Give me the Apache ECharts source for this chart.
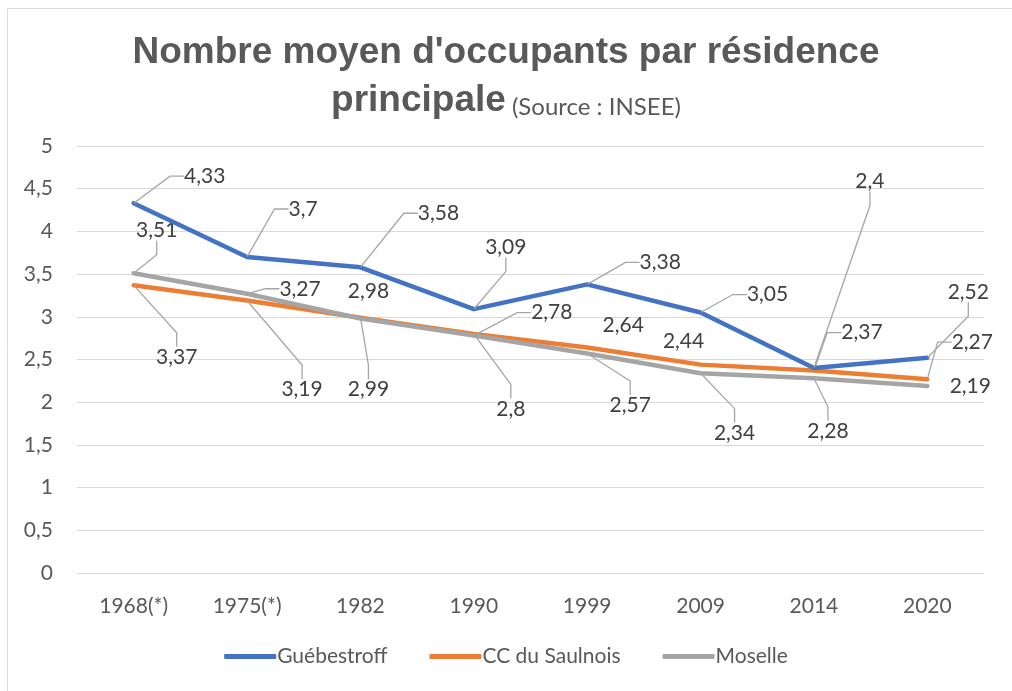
<!DOCTYPE html>
<html>
<head>
<meta charset="utf-8">
<script src="https://cdn.jsdelivr.net/npm/echarts@6/dist/echarts.min.js"></script>
<style>
html,body{margin:0;padding:0;background:#fff;}
#chart{width:1012px;height:691px;}
</style>
</head>
<body>
<div id="chart"></div>
<script>
const categories = ['1968(*)', '1975(*)', '1982', '1990', '1999', '2009', '2014', '2020'];
const guebestroff = [4.33, 3.7, 3.58, 3.09, 3.38, 3.05, 2.4, 2.52];
const saulnois = [3.37, 3.19, 2.99, 2.8, 2.64, 2.44, 2.37, 2.27];
const moselle = [3.51, 3.27, 2.98, 2.78, 2.57, 2.34, 2.28, 2.19];
const yTicks = { min: 0, max: 5, interval: 0.5 };

// label offsets (pixels, label centre relative to point) and whether a leader line is drawn
const offG = [[71,-27,1],[56,-48,1],[78,-54,1],[32,-62,1],[73,-22,1],[67,-18,1],[56,-187,1],[41,-66,1]];
const offS = [[43,72,1],[55,89,1],[8,72,1],[37,75,1],[36,-22,0],[-17,-23,0],[48,-38,1],[45,-37,1]];
const offM = [[23,-43,1],[53,-5,1],[8,-27,0],[78,-23,1],[43,52,1],[34,60,1],[14,53,1],[43,0,0]];

const FONT = 'Lato, "Open Sans", sans-serif';
const fmt = v => String(v).replace('.', ',');

function buildSeries(name, values, color, offs) {
  return {
    name: name,
    type: 'line',
    data: values.map((v, i) => ({ value: v, labelLine: { show: !!offs[i][2] } })),
    symbol: 'circle',
    symbolSize: 1,
    itemStyle: { color: color },
    lineStyle: { color: color, width: 4.5, cap: 'round', join: 'round' },
    z: name === 'Guébestroff' ? 3 : 2,
    label: {
      show: true,
      formatter: p => fmt(p.value),
      color: '#404040',
      fontSize: 21,
      fontFamily: FONT
    },
    labelLine: {
      show: true,
      length2: 14,
      lineStyle: { color: '#A6A6A6', width: 1.3 }
    },
    labelLayout: function (params) {
      const o = offs[params.dataIndex];
      const cx = params.rect.x + params.rect.width / 2;
      const cy = params.rect.y + params.rect.height / 2;
      return { x: cx + o[0], y: cy + o[1], align: 'center', verticalAlign: 'middle' };
    },
    emphasis: { disabled: true },
    animation: false
  };
}

const chart = echarts.init(document.getElementById('chart'), null, { renderer: 'canvas' });
chart.setOption({
  animation: false,
  backgroundColor: '#ffffff',
  graphic: [{
    type: 'rect',
    shape: { x: 7.5, y: 8.5, width: 1010, height: 700 },
    style: { fill: 'none', stroke: '#D9D9D9', lineWidth: 1 },
    silent: true
  }],
  title: [{
    text: "Nombre moyen d'occupants par résidence",
    left: 'center',
    top: 29,
    textStyle: { fontFamily: '"Liberation Sans", Arial, sans-serif', fontWeight: 'bold', fontSize: 37, color: '#595959' }
  }, {
    text: "{a|principale}{s| (Source : INSEE)}",
    left: 'center',
    top: 75,
    textStyle: {
      rich: {
        a: { fontFamily: '"Liberation Sans", Arial, sans-serif', fontWeight: 'bold', fontSize: 37, color: '#595959', lineHeight: 42 },
        s: { fontFamily: FONT, fontWeight: 'normal', fontSize: 24, color: '#595959', lineHeight: 42, verticalAlign: 'bottom', padding: [0, 0, 3, 0] }
      }
    }
  }],
  legend: {
    bottom: 19,
    left: 'center',
    icon: 'roundRect',
    itemWidth: 52,
    itemHeight: 5,
    itemGap: 42,
    textStyle: { fontFamily: FONT, fontSize: 21, color: '#595959', padding: [0, 0, 0, -4] },
    data: ['Guébestroff', 'CC du Saulnois', 'Moselle']
  },
  grid: { left: 77, right: 28, top: 146, bottom: 118 },
  xAxis: {
    type: 'category',
    data: categories,
    boundaryGap: true,
    axisLine: { show: true, lineStyle: { color: '#D9D9D9', width: 1 } },
    axisTick: { show: false },
    axisLabel: { color: '#595959', fontSize: 21, fontFamily: FONT, margin: 23 }
  },
  yAxis: {
    type: 'value',
    min: yTicks.min,
    max: yTicks.max,
    interval: yTicks.interval,
    axisLine: { show: false },
    axisTick: { show: false },
    splitLine: { lineStyle: { color: '#D9D9D9', width: 1 } },
    axisLabel: { color: '#595959', fontSize: 21, fontFamily: FONT, margin: 24, formatter: v => fmt(v) }
  },
  series: [
    buildSeries('Guébestroff', guebestroff, '#4472C4', offG),
    buildSeries('CC du Saulnois', saulnois, '#ED7D31', offS),
    buildSeries('Moselle', moselle, '#A5A5A5', offM)
  ]
});
</script>
</body>
</html>
